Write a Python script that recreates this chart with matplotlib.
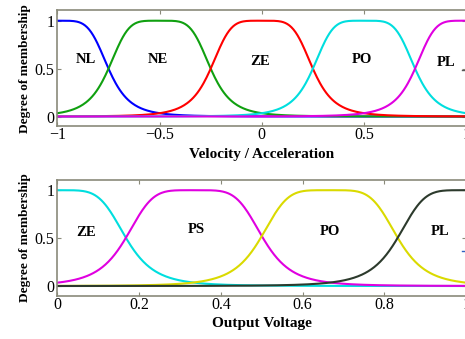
import numpy as np
import matplotlib
matplotlib.use("Agg")
import matplotlib.pyplot as plt

# membership function parameters (generalized bell: center, half width, slope)
top_labels = ["NL", "NE", "ZE", "PO", "PL"]
top_centers = [-1.0, -0.5, 0.0, 0.5, 1.0]
top_widths = [0.25, 0.25, 0.25, 0.25, 0.25]
top_colors = ["#0000ff", "#10a010", "#ff0000", "#00dede", "#e000e0"]
top_label_x = [-0.86, -0.51, -0.01, 0.49, 0.9]
top_label_y = [0.6, 0.6, 0.57, 0.6, 0.56]

bot_labels = ["ZE", "PS", "PO", "PL"]
bot_centers = [0.0, 0.335, 0.665, 1.0]
bot_widths = [0.168, 0.168, 0.168, 0.168]
bot_colors = ["#00dede", "#e000e0", "#dada00", "#2c3a2c"]
bot_label_x = [0.07, 0.34, 0.667, 0.935]
bot_label_y = [0.56, 0.59, 0.57, 0.57]

slope = 2.4


def gbell(x, c, a, b):
    # bell shaped membership, like MATLAB gbellmf
    return 1.0 / (1.0 + np.abs((x - c) / a) ** (2 * b))


plt.rcParams["font.family"] = ["Liberation Serif", "DejaVu Serif"]

fig = plt.figure(figsize=(4.65, 3.39), dpi=100)
ax1 = fig.add_axes([0.1235, 0.628, 0.879, 0.342])
ax2 = fig.add_axes([0.1235, 0.128, 0.879, 0.342])

frame = "#8a8a7a"


def style(ax, xlim, xticks, xticklabels, xlabel):
    ax.set_xlim(*xlim)
    ax.set_ylim(-0.1, 1.11)
    ax.set_xticks(xticks)
    ax.set_xticklabels(xticklabels, fontsize=11.5)
    ax.set_yticks([0, 0.5, 1])
    ax.set_yticklabels(["0", "0.5", "1"], fontsize=11.5)
    ax.tick_params(direction="in", length=3, top=True, right=True,
                   color=frame, pad=2)
    ax.tick_params(axis="x", pad=1)
    for s in ax.spines.values():
        s.set_color(frame)
        s.set_linewidth(1.2)
    ax.set_xlabel(xlabel, fontsize=11, fontweight="bold", labelpad=3)
    ax.set_ylabel("Degree of membership", fontsize=9.5,
                  fontweight="bold", labelpad=3)


x1 = np.linspace(-1, 1, 401)
for c, w, col in zip(top_centers, top_widths, top_colors):
    ax1.plot(x1, gbell(x1, c, w, slope), color=col, lw=1.5)
for lab, lx, ly in zip(top_labels, top_label_x, top_label_y):
    ax1.text(lx, ly, lab, fontsize=10.5, fontweight="bold",
             ha="center", va="center")
style(ax1, (-1, 1), [-1, -0.5, 0, 0.5, 1],
      ["\u22121", "\u22120.5", "0", "0.5", "1"], "Velocity / Acceleration")
# small cut-off marks at the right edge
ax1.plot([0.99, 1.0], [0.49, 0.49], transform=ax1.get_yaxis_transform(),
         color="#555555", lw=1, clip_on=False)

x2 = np.linspace(0, 1, 401)
for c, w, col in zip(bot_centers, bot_widths, bot_colors):
    ax2.plot(x2, gbell(x2, c, w, slope), color=col, lw=1.5)
for lab, lx, ly in zip(bot_labels, bot_label_x, bot_label_y):
    ax2.text(lx, ly, lab, fontsize=10.5, fontweight="bold",
             ha="center", va="center")
style(ax2, (0, 1), [0, 0.2, 0.4, 0.6, 0.8, 1],
      ["0", "0.2", "0.4", "0.6", "0.8", "1"], "Output Voltage")
ax2.plot([0.99, 1.0], [0.37, 0.37], transform=ax2.get_yaxis_transform(),
         color="#3060c0", lw=1, clip_on=False)

fig.savefig("out.png", dpi=100)
